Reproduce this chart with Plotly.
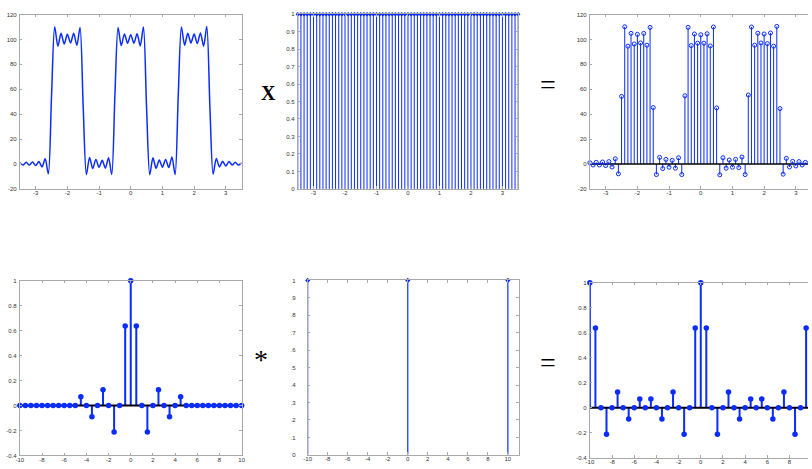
import plotly.graph_objects as go

# ---------------- data ----------------
sample_t = [-3.5, -3.4, -3.3, -3.2, -3.1, -3.0, -2.9, -2.8, -2.7, -2.6,
            -2.5, -2.4, -2.3, -2.2, -2.1, -2.0, -1.9, -1.8, -1.7, -1.6,
            -1.5, -1.4, -1.3, -1.2, -1.1, -1.0, -0.9, -0.8, -0.7, -0.6,
            -0.5, -0.4, -0.3, -0.2, -0.1, 0.0, 0.1, 0.2, 0.3, 0.4,
            0.5, 0.6, 0.7, 0.8, 0.9, 1.0, 1.1, 1.2, 1.3, 1.4,
            1.5, 1.6, 1.7, 1.8, 1.9, 2.0, 2.1, 2.2, 2.3, 2.4,
            2.5, 2.6, 2.7, 2.8, 2.9, 3.0, 3.1, 3.2, 3.3, 3.4, 3.5]
signal_values = [1.0, -0.8, 1.3, -0.8, 1.6, -1.3, 1.9, -2.4, 4.2, -7.9,
                 54.3, 110.2, 94.6, 104.9, 96.4, 104.1, 97.2, 104.9, 95.4, 109.7,
                 45.3, -8.5, 5.3, -3.7, 3.7, -2.6, 2.9, -3.4, 5.0, -8.5,
                 54.8, 109.7, 95.1, 104.4, 97.0, 103.8, 97.0, 104.6, 94.8, 110.0,
                 45.0, -8.7, 5.0, -3.4, 3.2, -2.6, 3.7, -2.9, 5.6, -8.5,
                 55.4, 110.0, 95.4, 105.0, 97.2, 104.4, 96.7, 105.2, 94.6, 110.5,
                 44.5, -8.2, 4.5, -2.4, 2.1, -1.6, 1.9, -0.8, 1.3, -0.8, 1.0]
comb_values = [1.0] * len(sample_t)

freq = [-10, -9.5, -9, -8.5, -8, -7.5, -7, -6.5, -6, -5.5,
        -5, -4.5, -4, -3.5, -3, -2.5, -2, -1.5, -1, -0.5,
        0, 0.5, 1, 1.5, 2, 2.5, 3, 3.5, 4, 4.5,
        5, 5.5, 6, 6.5, 7, 7.5, 8, 8.5, 9, 9.5, 10]
coeff_values = [0, 0, 0, 0, 0, 0, 0, 0, 0, 0,
                0, 0.071, 0, -0.091, 0, 0.127, 0, -0.212, 0, 0.637,
                1.0, 0.637, 0, -0.212, 0, 0.127, 0, -0.091, 0, 0.071,
                0, 0, 0, 0, 0, 0, 0, 0, 0, 0, 0]
delta_x = [-10, 0, 10]
delta_values = [1, 1, 1]
conv_values = [1.0, 0.637, 0, -0.212, 0, 0.127, 0, -0.090, 0, 0.071,
               0, 0.071, 0, -0.090, 0, 0.127, 0, -0.212, 0, 0.637,
               1.0, 0.637, 0, -0.212, 0, 0.127, 0, -0.090, 0, 0.071,
               0, 0.071, 0, -0.090, 0, 0.127, 0, -0.212, 0, 0.637, 1.0]

t_ticks = [-3, -2, -1, 0, 1, 2, 3]
t_ticktext = ["-3", "-2", "-1", "0", "1", "2", "3"]
amp_ticks = [-20, 0, 20, 40, 60, 80, 100, 120]
amp_ticktext = ["-20", "0", "20", "40", "60", "80", "100", "120"]
unit_ticks = [0, 0.1, 0.2, 0.3, 0.4, 0.5, 0.6, 0.7, 0.8, 0.9, 1]
unit_ticktext = ["0", "0.1", "0.2", "0.3", "0.4", "0.5", "0.6", "0.7", "0.8", "0.9", "1"]
f_ticks = [-10, -8, -6, -4, -2, 0, 2, 4, 6, 8, 10]
f_ticktext = ["-10", "-8", "-6", "-4", "-2", "0", "2", "4", "6", "8", "10"]
c_ticks = [-0.4, -0.2, 0, 0.2, 0.4, 0.6, 0.8, 1]
c_ticktext = ["-0.4", "-0.2", "0", "0.2", "0.4", "0.6", "0.8", "1"]

# ---------------- styling ----------------
W, H = 812, 469
BLUE = "#0a2cff"
AXC = "#a9a9a9"
TICKFONT = dict(family="Liberation Sans", size=6, color="#333333")


def dx(a, b):
    return [a / W, min(b / W, 1.0)]


def dy(top, bottom):
    return [1 - bottom / H, 1 - top / H]


def stem_xy(xs, ys):
    sx, sy = [], []
    for x, y in zip(xs, ys):
        sx += [x, x, None]
        sy += [0, y, None]
    return sx, sy


fig = go.Figure()

# panel 1: continuous signal
fig.add_trace(go.Scatter(x=sample_t, y=signal_values, mode="lines",
                         line=dict(color=BLUE, width=1.5, shape="spline", smoothing=0.8),
                         xaxis="x", yaxis="y"))

# panel 2: comb
sx, sy = stem_xy(sample_t, comb_values)
fig.add_trace(go.Scatter(x=sx, y=sy, mode="lines", line=dict(color=BLUE, width=1),
                         xaxis="x2", yaxis="y2"))
fig.add_trace(go.Scatter(x=sample_t, y=comb_values, mode="markers", cliponaxis=False,
                         marker=dict(symbol="diamond", size=3.5, color=BLUE),
                         xaxis="x2", yaxis="y2"))

# panel 3: sampled signal
sx, sy = stem_xy(sample_t, signal_values)
fig.add_trace(go.Scatter(x=sx, y=sy, mode="lines", line=dict(color=BLUE, width=1),
                         xaxis="x3", yaxis="y3"))
fig.add_trace(go.Scatter(x=[sample_t[0], sample_t[-1]], y=[0, 0], mode="lines",
                         line=dict(color="black", width=1.5), xaxis="x3", yaxis="y3"))
fig.add_trace(go.Scatter(x=sample_t, y=signal_values, mode="markers", cliponaxis=False,
                         marker=dict(symbol="circle-open", size=4, color=BLUE,
                                     line=dict(width=1, color=BLUE)),
                         xaxis="x3", yaxis="y3"))

# panel 4: coefficients
sx, sy = stem_xy(freq, coeff_values)
fig.add_trace(go.Scatter(x=sx, y=sy, mode="lines", line=dict(color=BLUE, width=2),
                         xaxis="x4", yaxis="y4"))
fig.add_trace(go.Scatter(x=[freq[0], freq[-1]], y=[0, 0], mode="lines",
                         line=dict(color="black", width=2.2), xaxis="x4", yaxis="y4"))
fig.add_trace(go.Scatter(x=freq, y=coeff_values, mode="markers", cliponaxis=False,
                         marker=dict(symbol="circle", size=5.5, color=BLUE),
                         xaxis="x4", yaxis="y4"))

# panel 5: delta train
sx, sy = stem_xy(delta_x, delta_values)
fig.add_trace(go.Scatter(x=sx, y=sy, mode="lines", line=dict(color=BLUE, width=1.2),
                         xaxis="x5", yaxis="y5"))
fig.add_trace(go.Scatter(x=delta_x, y=delta_values, mode="markers", cliponaxis=False,
                         marker=dict(symbol="diamond", size=4, color=BLUE),
                         xaxis="x5", yaxis="y5"))

# panel 6: convolution
sx, sy = stem_xy(freq, conv_values)
fig.add_trace(go.Scatter(x=sx, y=sy, mode="lines", line=dict(color=BLUE, width=2),
                         xaxis="x6", yaxis="y6"))
fig.add_trace(go.Scatter(x=[freq[0], freq[-1]], y=[0, 0], mode="lines",
                         line=dict(color="black", width=2.2), xaxis="x6", yaxis="y6"))
fig.add_trace(go.Scatter(x=freq, y=conv_values, mode="markers", cliponaxis=False,
                         marker=dict(symbol="circle", size=5.5, color=BLUE),
                         xaxis="x6", yaxis="y6"))


def xax(dom, rng, tv, tt, anchor, standoff=-2):
    return dict(domain=dom, range=rng, tickvals=tv, ticktext=tt, anchor=anchor,
                showline=True, linecolor=AXC, linewidth=1, mirror="ticks",
                ticks="inside", ticklen=2.5, tickcolor=AXC, tickwidth=1,
                showgrid=False, zeroline=False, tickfont=TICKFONT,
                ticklabelstandoff=standoff, fixedrange=True)


def yax(dom, rng, tv, tt, anchor, mirror="ticks", standoff=1):
    return dict(domain=dom, range=rng, tickvals=tv, ticktext=tt, anchor=anchor,
                showline=True, linecolor=AXC, linewidth=1, mirror=mirror,
                ticks="inside", ticklen=2.5, tickcolor=AXC, tickwidth=1,
                showgrid=False, zeroline=False, tickfont=TICKFONT,
                ticklabelstandoff=standoff, fixedrange=True)


top1 = dy(11.7, 188.3)
top2 = dy(11.3, 188.3)
bot1 = dy(281.3, 458.3)
bot2 = dy(281.0, 457.7)
bot3 = dy(283.3, 460.7)

fig.update_layout(
    width=W, height=H, margin=dict(l=0, r=0, t=0, b=0),
    paper_bgcolor="white", plot_bgcolor="white", showlegend=False,
    xaxis=xax(dx(16, 240), [-3.5, 3.5], t_ticks, t_ticktext, "y"),
    yaxis=yax(top1, [-20, 120], amp_ticks, amp_ticktext, "x"),
    xaxis2=xax(dx(296.7, 519.3), [-3.5, 3.5], t_ticks, t_ticktext, "y2"),
    yaxis2=yax(top2, [0, 1], unit_ticks, unit_ticktext, "x2"),
    xaxis3=xax(dx(591.7, 812), [-3.5, -3.5 + 220.3 / 32.0], t_ticks, t_ticktext, "y3"),
    yaxis3=yax(top1, [-20, 120], amp_ticks, amp_ticktext, "x3", mirror=False),
    xaxis4=xax(dx(16, 240), [-10, 10], f_ticks, f_ticktext, "y4"),
    yaxis4=yax(bot1, [-0.4, 1], c_ticks, c_ticktext, "x4"),
    xaxis5=xax(dx(306.7, 520), [-10, 11.1], f_ticks, f_ticktext, "y5"),
    yaxis5=yax(bot2, [0, 1], unit_ticks, unit_ticktext, "x5", standoff=10),
    xaxis6=xax(dx(591.7, 812), [-10, -10 + 220.3 / 11.2], f_ticks, f_ticktext, "y6"),
    yaxis6=yax(bot3, [-0.4, 1], c_ticks, c_ticktext, "x6", mirror=False),
)

# clip of the bottom-middle tick labels, as in the source image
fig.add_shape(type="rect", xref="paper", yref="paper", layer="above",
              x0=270 / W, x1=290 / W, y0=0, y1=1 - 270 / H,
              fillcolor="white", line=dict(width=0))

SERIF = "Liberation Serif"
ops = [("<b>X</b>", 267, 91, 20), ("=", 549.5, 83, 28), ("*", 260, 361, 28), ("=", 549.5, 364, 28)]
for txt, px, py, sz in ops:
    fig.add_annotation(text=txt, x=px / W, y=1 - py / H, xref="paper", yref="paper",
                       showarrow=False, xanchor="center", yanchor="middle",
                       font=dict(family=SERIF, size=sz, color="black"))

fig.write_html("out.html")
